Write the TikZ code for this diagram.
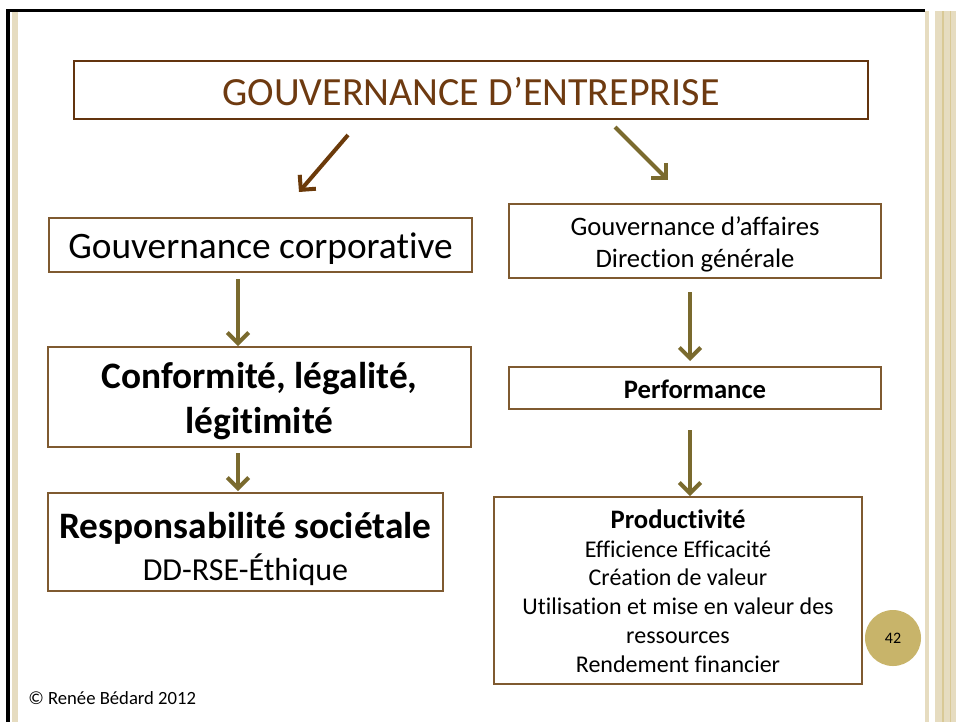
\documentclass[tikz,border=0pt]{standalone}
\usepackage{fontspec}
\setmainfont{Carlito}[RawFeature={-liga;-clig}]
\usetikzlibrary{arrows.meta}
\definecolor{boxbrown}{HTML}{7F5A30}
\definecolor{titlebrown}{HTML}{6E3A10}
\definecolor{darkarrow}{HTML}{6B3A0A}
\definecolor{olive}{HTML}{7A6A2E}
\definecolor{strip}{HTML}{E6DCC0}
\definecolor{stripdark}{HTML}{D9C996}
\definecolor{gold}{HTML}{C8B46A}
\tikzset{
  box/.style={draw=boxbrown, line width=1pt, fill=white, inner sep=0pt},
  txt/.style={inner sep=0pt, align=center},
  arr/.style={line width=3pt, -{Straight Barb[length=8pt,width=16pt]}},
}
\newcommand{\fs}[2]{\fontsize{#1}{#2}\selectfont}
\begin{document}
\begin{tikzpicture}[x=0.75pt,y=-0.75pt]
\useasboundingbox (0,0) rectangle (956,722);
\fill[white] (0,0) rectangle (956,722);
% frame
\fill[strip] (12,11) rectangle (18,722);
\fill[strip] (925,11) rectangle (929,722);
\fill[strip] (935,11) rectangle (956,722);
\fill[stripdark] (942,11) rectangle (944,722);
\fill[stripdark] (950,11) rectangle (951,722);
\fill[black] (6,9) rectangle (925,12);
\fill[black] (6,9) rectangle (10,722);
% boxes
\node[box, minimum width=595.5pt, minimum height=43.5pt, draw=titlebrown!90!black] (top) at (471,90) {};
\node[box, minimum width=317.25pt, minimum height=40.5pt] (gc) at (260.5,245) {};
\node[box, minimum width=279pt, minimum height=55.5pt] (ga) at (695,241) {};
\node[box, minimum width=317.25pt, minimum height=75pt] (conf) at (259.5,397) {};
\node[box, minimum width=279pt, minimum height=31.5pt] (perf) at (695,388) {};
\node[box, minimum width=296.25pt, minimum height=73.5pt] (resp) at (245.5,542) {};
\node[box, minimum width=276pt, minimum height=140.25pt] (prod) at (678,590.5) {};
% texts
\node[txt, text=titlebrown, font=\fs{30pt}{36pt}] (topt) at (471,92) {GOUVERNANCE D’ENTREPRISE};
\node[txt, font=\fs{28pt}{33pt}] (gct) at (260.5,249) {Gouvernance corporative};
\node[txt, font=\fs{20pt}{24pt}] (gat) at (695,244) {Gouvernance d’affaires\\Direction générale};
\node[txt, font=\bfseries\fs{28pt}{33.6pt}] (conft) at (259.5,401) {Conformité, légalité,\\légitimité};
\node[txt, font=\bfseries\fs{20pt}{24pt}] (perft) at (695,389) {Performance};
\node[txt, font=\fs{24pt}{31.5pt}] (respt) at (245.5,549) {{\bfseries\fs{28pt}{31.5pt}Responsabilité sociétale}\\DD-RSE-Éthique};
\node[txt, font=\fs{18pt}{21.6pt}] (prodt) at (678,591) {{\bfseries\fs{20pt}{21.6pt}Productivité}\\Efficience Efficacité\\Création de valeur\\Utilisation et mise en valeur des\\ressources\\Rendement financier};
% page number and credit
\node[circle, fill=gold, minimum size=42pt, inner sep=0pt, font=\fs{12pt}{14pt}] (pn) at (893,638) {42};
\node[anchor=west, inner sep=0pt, font=\fs{14pt}{17pt}] (cr) at (28,698) {© Renée Bédard 2012};
% arrows
\coordinate (d1s) at (348,135); \coordinate (d1e) at (299,192);
\coordinate (d2s) at (615,127); \coordinate (d2e) at (668,180);
\coordinate (l1s) at (238,279); \coordinate (l1e) at (238,346);
\coordinate (l2s) at (238,453); \coordinate (l2e) at (238,491);
\coordinate (r1s) at (690,292); \coordinate (r1e) at (690,361);
\coordinate (r2s) at (690,430); \coordinate (r2e) at (690,496);
\draw[arr, darkarrow] (d1s) -- (d1e);
\draw[arr, olive] (d2s) -- (d2e);
\draw[arr, olive] (l1s) -- (l1e);
\draw[arr, olive] (l2s) -- (l2e);
\draw[arr, olive] (r1s) -- (r1e);
\draw[arr, olive] (r2s) -- (r2e);
\end{tikzpicture}
\end{document}
